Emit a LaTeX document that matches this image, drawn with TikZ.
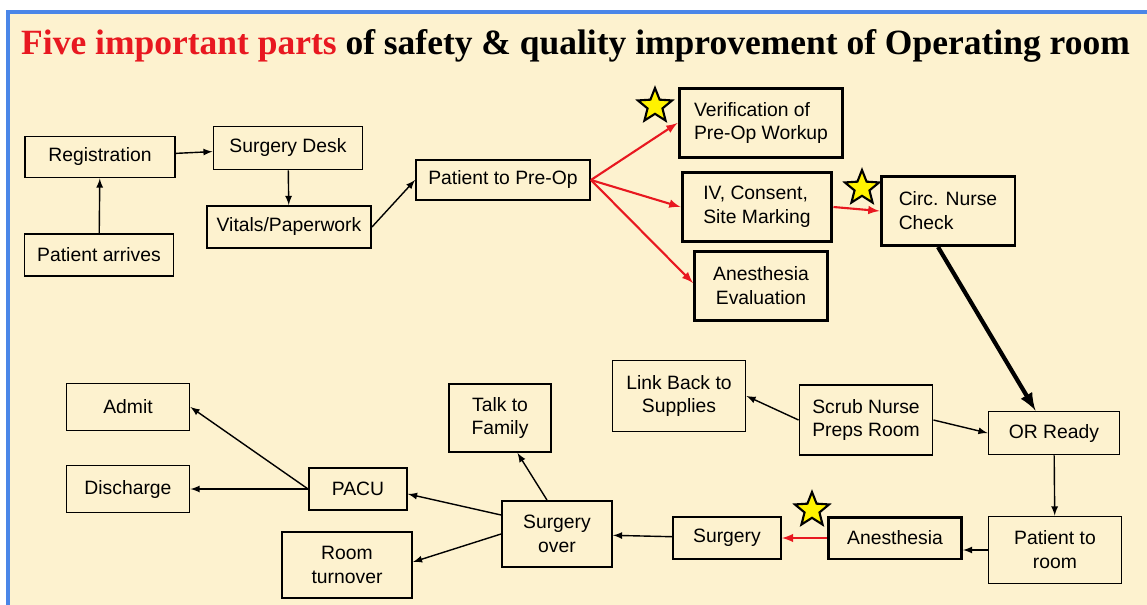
\documentclass[tikz,border=0pt]{standalone}
\usepackage{fontspec}
\setmainfont{Liberation Sans}
\newfontfamily\headfont{Liberation Serif}
\usetikzlibrary{positioning,shapes.geometric}
\definecolor{cream}{RGB}{253,242,207}
\definecolor{frameblue}{RGB}{74,134,232}
\definecolor{hotred}{RGB}{232,24,32}

\begin{document}
\begin{tikzpicture}[x=0.02cm,y=-0.02cm,
        font=\fontsize{11}{13.6}\selectfont,
        box/.style={draw,line width=1.1pt,inner sep=2pt,align=center},
        heavybox/.style={box,line width=1.7pt},
        goldstar/.style={star,star points=5,star point ratio=2.3,draw,
          line width=1.2pt,fill=yellow,minimum size=0.72cm,inner sep=0pt},
        flow/.style={-latex,line width=0.8pt},
        hot/.style={-latex,line width=1.2pt,hotred}]
      \useasboundingbox (0,0) rectangle (1147,605);
      \fill[white] (0,0) rectangle (1147,605);
      \fill[cream] (8,12) rectangle (1147,605);
      \draw[frameblue,line width=1.9pt] (8,605) -- (8,12) -- (1147,12);
      \node[anchor=west,font=\headfont\bfseries\fontsize{20.2}{24}\selectfont] (title) at (15,46)
        {\textcolor{hotred}{Five important parts} of safety \& quality improvement of Operating room};
      \node[box,minimum width=3cm,minimum height=0.82cm] (reg) at (100,157) {Registration};
      \node[box,minimum width=2.98cm,minimum height=0.84cm] (arrive) at (99,255) {Patient arrives};
      \node[box,minimum width=2.98cm,minimum height=0.86cm] (desk) at (288,148) {Surgery Desk};
      \node[box,minimum width=3.28cm,minimum height=0.84cm] (vitals) at (289,227) {Vitals/Paperwork};
      \node[box,minimum width=3.48cm,minimum height=0.8cm] (preop) at (503,180) {Patient to Pre-Op};
      \node[heavybox,align=left,minimum width=3.28cm,minimum height=1.38cm] (verif) at (761,123) {Verification of\\Pre-Op Workup};
      \node[heavybox,align=left,minimum width=3cm,minimum height=1.38cm] (iv) at (757,207) {IV, Consent,\\Site Marking};
      \node[heavybox,minimum width=2.66cm,minimum height=1.38cm] (aneval) at (761,286) {Anesthesia\\Evaluation};
      \node[heavybox,align=left,minimum width=2.68cm,minimum height=1.38cm] (circ) at (948,211) {Circ. Nurse\\Check};
      \node[box,minimum width=2.66cm,minimum height=1.42cm] (link) at (679,396) {Link Back to\\Supplies};
      \node[box,minimum width=2.66cm,minimum height=1.4cm] (scrub) at (866,420) {Scrub Nurse\\Preps Room};
      \node[box,minimum width=2.62cm,minimum height=0.86cm] (orready) at (1054,433) {OR Ready};
      \node[box,minimum width=2.66cm,minimum height=1.34cm] (ptroom) at (1055,550) {Patient to\\room};
      \node[heavybox,minimum width=2.66cm,minimum height=0.84cm] (anes) at (895,538) {Anesthesia};
      \node[box,minimum width=2.16cm,minimum height=0.84cm] (surg) at (727,538) {Surgery};
      \node[box,minimum width=2.2cm,minimum height=1.32cm] (over) at (557,534) {Surgery\\over};
      \node[box,minimum width=2.04cm,minimum height=1.36cm] (talk) at (500,418) {Talk to\\Family};
      \node[box,minimum width=1.96cm,minimum height=0.84cm] (pacu) at (358,489) {PACU};
      \node[box,minimum width=2.46cm,minimum height=0.94cm] (admit) at (128,407) {Admit};
      \node[box,minimum width=2.46cm,minimum height=0.94cm] (disch) at (128,489) {Discharge};
      \node[box,minimum width=2.6cm,minimum height=1.32cm] (turn) at (347,565) {Room\\turnover};
      \node[goldstar] (star1) at (655,106) {};
      \node[goldstar] (star2) at (862,188) {};
      \node[goldstar] (star3) at (812,510) {};
      \draw[flow] (arrive) -- (reg);
      \draw[flow] (reg) -- (desk);
      \draw[flow] (desk) -- (vitals);
      \draw[flow] (vitals.east) -- (preop.west);
      \draw[hot] (preop.east) -- (verif.west);
      \draw[hot] (preop.east) -- (iv.west);
      \draw[hot] (preop.east) -- ([yshift=0.06cm]aneval.west);
      \draw[hot] (iv.east) -- (circ.west);
      \draw[-latex,line width=2.4pt] ([xshift=-0.2cm]circ.south) -- ([xshift=-0.37cm]orready.north);
      \draw[flow] (scrub.west) -- (link.east);
      \draw[flow] (scrub.east) -- (orready.west);
      \draw[flow] (orready) -- (ptroom);
      \draw[flow] (ptroom.west) -- (ptroom.west -| anes.east);
      \draw[hot] (anes) -- (surg);
      \draw[flow] (surg) -- (over);
      \draw[flow] ([xshift=-0.2cm]over.north) -- ([xshift=0.35cm]talk.south);
      \draw[flow] ([yshift=0.38cm]over.west) -- ([yshift=-0.1cm]pacu.east);
      \draw[flow] (over.west) -- ([yshift=0.06cm]turn.east);
      \draw[flow] (pacu.west) -- (admit.east);
      \draw[flow] (pacu) -- (disch);
    \end{tikzpicture}
\end{document}
